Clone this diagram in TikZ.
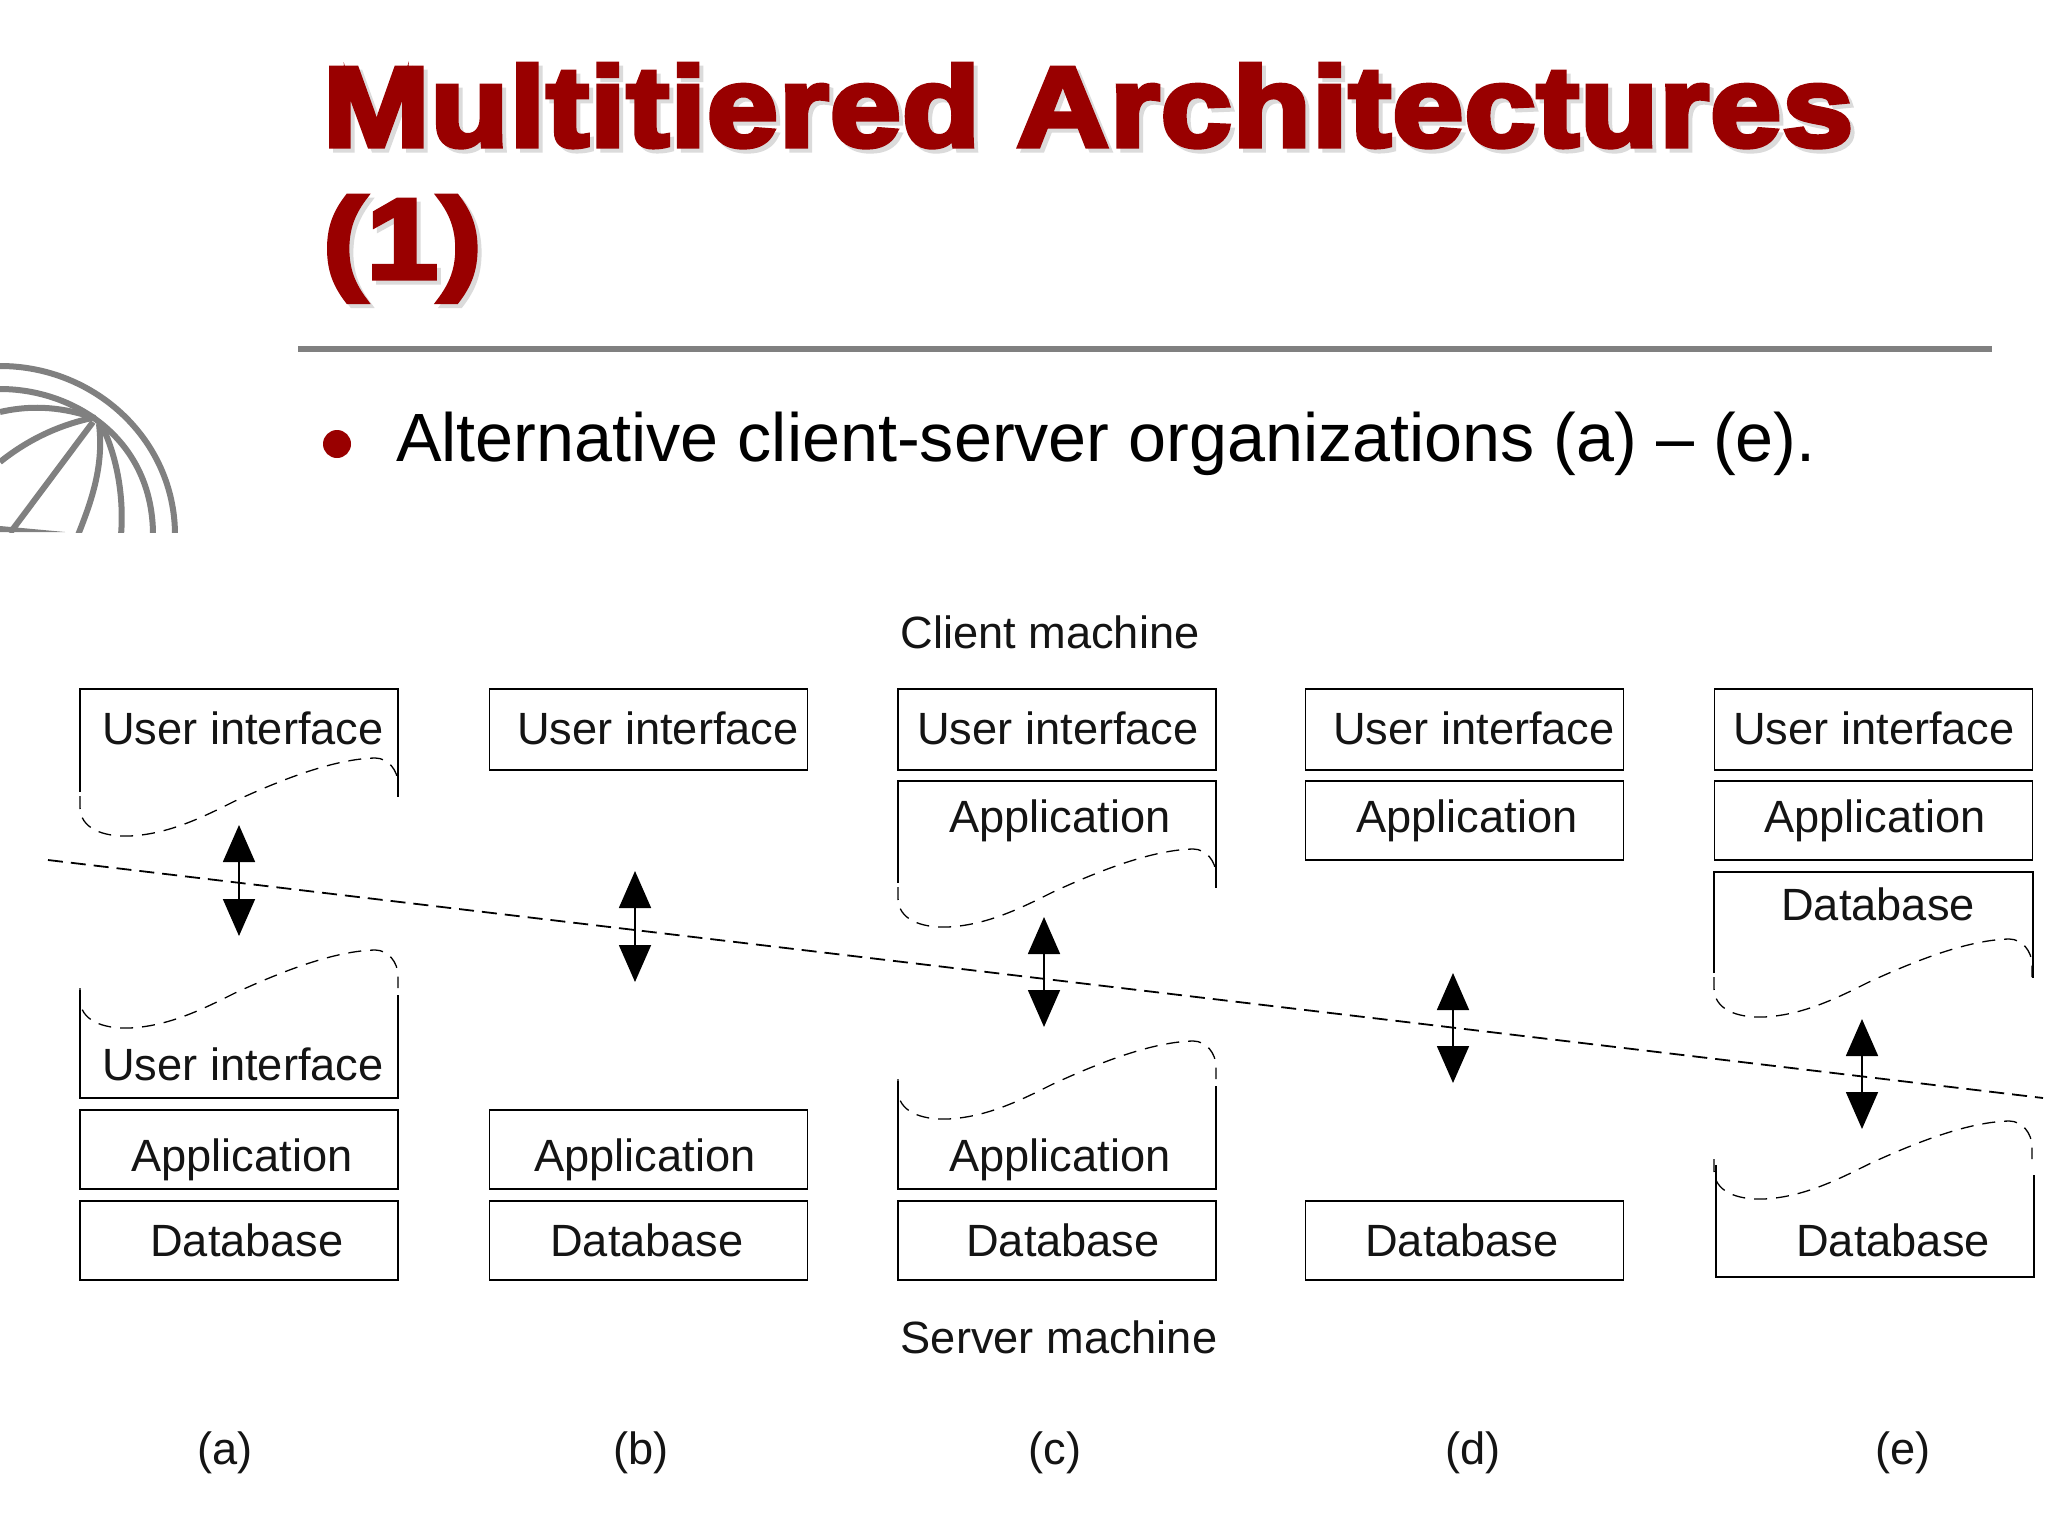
\documentclass[tikz,border=0pt]{standalone}
\usepackage{fontspec}
\setmainfont{Liberation Sans}
\newfontfamily\titlefont[FakeBold=4.5,FakeStretch=1.13,LetterSpace=1]{Liberation Sans Bold}
\usetikzlibrary{arrows.meta}
\definecolor{deckred}{HTML}{990000}
\definecolor{deckgray}{HTML}{808080}
\newcommand{\titleline}[1]{\makebox[0pt][l]{\hspace{4pt}\raisebox{-4pt}{\color{black!14}#1}}{\color{deckred}#1}}
\tikzset{
  x=1pt,y=-1pt,
  boxline/.style={draw=black,line width=1.7pt},
  tier/.style={boxline,rectangle,inner sep=0pt,outer sep=0pt,minimum width=318pt},
  tierlabel/.style={anchor=base,inner sep=0pt,font=\fontsize{45.2}{45.2}\selectfont,text=black!92},
  caption/.style={anchor=base,inner sep=0pt,font=\fontsize{45.2}{45.2}\selectfont,text=black!92},
  wavedash/.style={draw=black,line width=1.3pt,dash pattern=on 13pt off 9pt},
  wavecurve/.pic={
    \draw[wavedash] (0,4) -- (0,15) .. controls (0,36) and (22,45) .. (50,44)
      .. controls (90,42) and (125,24) .. (155,9)
      .. controls (205,-14) and (255,-33) .. (295,-34)
      .. controls (308,-34) and (318,-22) .. (318,-8) -- (318,4);
  },
  logo/.style={draw=deckgray,line width=6pt},
  link/.style={draw=black,line width=1.7pt,{Triangle[length=37pt,width=32pt]}-{Triangle[length=37pt,width=32pt]}},
  divide/.style={draw=black,line width=1.8pt,dash pattern=on 15pt off 8pt},
}
\begin{document}
\begin{tikzpicture}
\useasboundingbox (0,0) rectangle (2048,1536);
\fill[white] (0,0) rectangle (2048,1536);

% logo
\begin{scope}
\clip (0,340) rectangle (200,532);
\draw[logo] (0,366) .. controls (95,366) and (175,440) .. (175,535);
\draw[logo] (0,389) .. controls (75,389) and (153,440) .. (153,535);
\draw[logo] (0,412) .. controls (35,404) and (65,408) .. (95,418);
\draw[logo] (0,462) .. controls (25,442) and (55,426) .. (92,418);
\draw[logo] (93,422) -- (10,533);
\draw[logo] (99,424) .. controls (104,465) and (92,500) .. (78,535);
\draw[logo] (103,428) .. controls (118,460) and (124,500) .. (121,535);
\fill[deckgray] (0,526) -- (65,532) -- (0,532) -- cycle;
\end{scope}

% title
\node[anchor=base west,inner sep=0pt,font=\titlefont\fontsize{113}{113}\selectfont] (title1) at (323,146) {\titleline{Multitiered Architectures}};
\node[anchor=base west,inner sep=0pt,font=\titlefont\fontsize{113}{113}\selectfont] (title2) at (323,278) {\titleline{(1)}};
\fill[deckgray] (298,346) rectangle (1992,352);
\fill[deckred] (337,444) circle (14);
\node[anchor=base west,inner sep=0pt,font=\fontsize{68.3}{68.3}\selectfont,text=black] (bullet) at (396,461) {Alternative client-server organizations (a) – (e).};

% captions
\node[caption] (client) at (1050,648) {Client machine};
\node[caption] (server) at (1059,1353) {Server machine};
\node[caption] (la) at (225,1464) {(a)};
\node[caption] (lb) at (641,1464) {(b)};
\node[caption] (lc) at (1055,1464) {(c)};
\node[caption] (ld) at (1473,1464) {(d)};
\node[caption] (le) at (1903,1464) {(e)};

% column a
\draw[boxline] (80,792) -- (80,689) -- (398,689) -- (398,797);
\pic at (80,984) {wavecurve};
\pic at (80,792) {wavecurve};
\node[tierlabel] (a1) at (243,744) {User interface};
\draw[boxline] (80,990) -- (80,1098) -- (398,1098) -- (398,995);
\node[tierlabel] (a2) at (243,1080) {User interface};
\node[tier,minimum height=79pt] (a3) at (239,1149.5) {};
\node[tierlabel] (a3t) at (242,1171) {Application};
\node[tier,minimum height=79pt] (a4) at (239,1240.5) {};
\node[tierlabel] (a4t) at (247,1256) {Database};

% column b
\node[tier,minimum height=81pt] (b1) at (648.5,729.5) {};
\node[tierlabel] (b1t) at (658,744) {User interface};
\node[tier,minimum height=79pt] (b3) at (648.5,1149.5) {};
\node[tierlabel] (b3t) at (645,1171) {Application};
\node[tier,minimum height=79pt] (b4) at (648.5,1240.5) {};
\node[tierlabel] (b4t) at (647,1256) {Database};

% column c
\node[tier,minimum height=81pt] (c1) at (1057,729.5) {};
\node[tierlabel] (c1t) at (1058,744) {User interface};
\draw[boxline] (898,883) -- (898,781) -- (1216,781) -- (1216,888);
\pic at (898,883) {wavecurve};
\node[tierlabel] (c2) at (1060,832) {Application};
\pic at (898,1075) {wavecurve};
\draw[boxline] (898,1081) -- (898,1189) -- (1216,1189) -- (1216,1086);
\node[tierlabel] (c3) at (1060,1171) {Application};
\node[tier,minimum height=79pt] (c4) at (1057,1240.5) {};
\node[tierlabel] (c4t) at (1063,1256) {Database};

% column d
\node[tier,minimum height=81pt] (d1) at (1464.5,729.5) {};
\node[tierlabel] (d1t) at (1474,744) {User interface};
\node[tier,minimum height=79pt] (d2) at (1464.5,820.5) {};
\node[tierlabel] (d2t) at (1467,832) {Application};
\node[tier,minimum height=79pt] (d4) at (1464.5,1240.5) {};
\node[tierlabel] (d4t) at (1462,1256) {Database};

% column e
\node[tier,minimum height=81pt] (e1) at (1873.5,729.5) {};
\node[tierlabel] (e1t) at (1874,744) {User interface};
\node[tier,minimum height=79pt] (e2) at (1873.5,820.5) {};
\node[tierlabel] (e2t) at (1875,832) {Application};
\draw[boxline] (1714,973) -- (1714,872) -- (2033,872) -- (2033,978);
\pic at (1714,973) {wavecurve};
\node[tierlabel] (e3) at (1878,920) {Database};
\pic at (1714,1155) {wavecurve};
\draw[boxline] (1716,1165) -- (1716,1277) -- (2034,1277) -- (2034,1175);
\node[tierlabel] (e4) at (1893,1256) {Database};

% dividing line
\coordinate (divL) at (48,860);
\coordinate (divR) at (2043,1098);
\draw[divide] (divL) -- (divR);

% arrows
\coordinate (ta) at (239,825); \coordinate (ua) at (239,936);
\coordinate (tb) at (635,871); \coordinate (ub) at (635,982);
\coordinate (tc) at (1044,917); \coordinate (uc) at (1044,1027);
\coordinate (td) at (1453,973); \coordinate (ud) at (1453,1083);
\coordinate (te) at (1862,1019); \coordinate (ue) at (1862,1129);
\draw[link] (ta) -- (ua);
\draw[link] (tb) -- (ub);
\draw[link] (tc) -- (uc);
\draw[link] (td) -- (ud);
\draw[link] (te) -- (ue);
\end{tikzpicture}
\end{document}
